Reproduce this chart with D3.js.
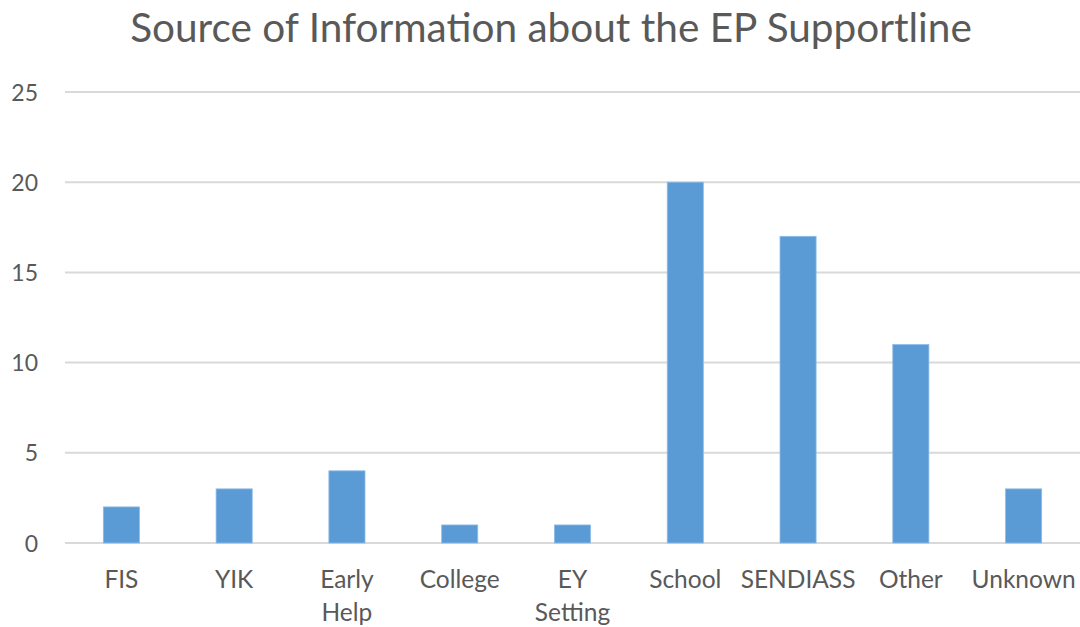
<!DOCTYPE html>
<html>
<head>
<meta charset="utf-8">
<script src="https://cdn.jsdelivr.net/npm/d3@7"></script>
<style>
  html, body { margin: 0; padding: 0; background: #fff; }
  svg { display: block; }
  text { font-family: Lato, "Open Sans", sans-serif; fill: #595959; }
</style>
</head>
<body>
<svg id="chart" width="1080" height="627"></svg>
<script>
const categories = ["FIS", "YIK", "Early Help", "College", "EY Setting", "School", "SENDIASS", "Other", "Unknown"];
const values = [2, 3, 4, 1, 1, 20, 17, 11, 3];
const yTicks = [0, 5, 10, 15, 20, 25];
const title = "Source of Information about the EP Supportline";

const W = 1080, H = 627;
const margin = { left: 65, right: 0, top: 92, bottom: 84 };
const svg = d3.select("#chart");

const x = d3.scaleBand()
  .domain(categories)
  .range([margin.left, W - margin.right])
  .paddingInner(0.68)
  .paddingOuter(0.34);

const y = d3.scaleLinear()
  .domain([0, 25])
  .range([H - margin.bottom, margin.top]);

// Horizontal gridlines
svg.append("g")
  .selectAll("line")
  .data(yTicks)
  .join("line")
  .attr("x1", margin.left)
  .attr("x2", W - margin.right)
  .attr("y1", d => y(d))
  .attr("y2", d => y(d))
  .attr("stroke", "#d9d9d9")
  .attr("stroke-width", 2);

// Y axis tick labels
const yAxis = d3.axisLeft(y).tickValues(yTicks).tickSize(0).tickPadding(0);
const gy = svg.append("g")
  .attr("transform", `translate(38,0)`)
  .call(yAxis);
gy.select(".domain").remove();
gy.selectAll("text")
  .attr("font-size", 23)
  .attr("dy", "0.35em")
  .style("font-family", "Lato, 'Open Sans', sans-serif")
  .attr("fill", "#595959");

// Bars
svg.append("g")
  .selectAll("rect")
  .data(values)
  .join("rect")
  .attr("x", (d, i) => x(categories[i]))
  .attr("width", x.bandwidth())
  .attr("y", d => y(d))
  .attr("height", d => y(0) - y(d))
  .attr("fill", "#5b9bd5")
  .attr("stroke", "#8dbbe6")
  .attr("stroke-width", 0.8);

// Category labels (wrapped at spaces when two words)
const xl = svg.append("g");
categories.forEach(c => {
  const words = c.split(" ");
  const lines = (c === "Early Help" || c === "EY Setting") ? words : [c];
  const t = xl.append("text")
    .attr("text-anchor", "middle")
    .attr("font-size", 24.5)
    .attr("x", x(c) + x.bandwidth() / 2)
    .attr("y", 588);
  lines.forEach((w, k) => {
    t.append("tspan")
      .attr("x", x(c) + x.bandwidth() / 2)
      .attr("dy", k === 0 ? 0 : 33)
      .text(w);
  });
});

// Title
const tt = svg.append("text")
  .attr("x", 551)
  .attr("y", 42)
  .attr("text-anchor", "middle")
  .attr("font-size", 34)
  .text(title);
const tw = tt.node().getComputedTextLength();
tt.attr("font-size", 34 * 842 / tw);
</script>
</body>
</html>
